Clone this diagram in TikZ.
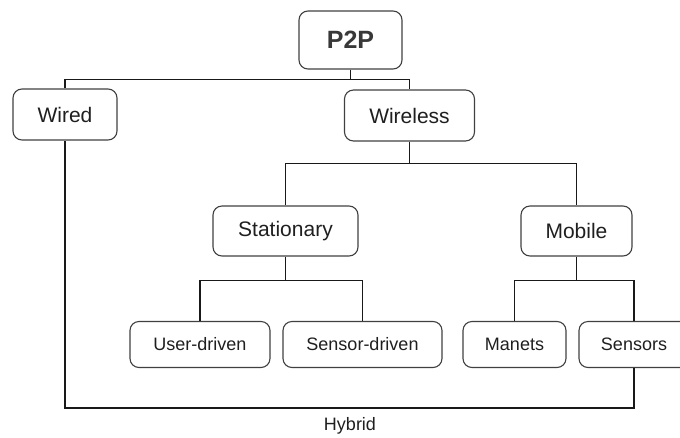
\documentclass[tikz,border=0pt]{standalone}
\usepackage{fontspec}
\setmainfont{Liberation Sans}
\begin{document}
\begin{tikzpicture}[x=1pt,y=-1pt,
  box/.style={draw=black!75, line width=1.1pt, rounded corners=9pt, text=black!88,
    font=\fontsize{21}{25}\selectfont, inner sep=0pt},
  link/.style={draw=black!90, line width=1.25pt},
  lbl/.style={text=black!88, font=\fontsize{18}{22}\selectfont, inner sep=0pt}]
\clip (0,0) rectangle (680,437);
\node[box, minimum width=103pt, minimum height=58pt, text=black!78,
  font=\fontsize{25}{30}\selectfont\bfseries] (p2p) at (350.5,40) {P2P};
\node[box, minimum width=104pt, minimum height=51pt] (wired) at (65,114.5) {Wired};
\node[box, minimum width=130pt, minimum height=51pt] (wireless) at (409.5,115.5) {Wireless};
\node[box, minimum width=145pt, minimum height=50pt] (stationary) at (285.5,231) {Stationary};
\node[box, minimum width=111pt, minimum height=50pt] (mobile) at (576.5,231) {Mobile};
\node[box, minimum width=140pt, minimum height=46pt, font=\fontsize{18}{22}\selectfont] (user) at (200,344.5) {User-driven};
\node[box, minimum width=159pt, minimum height=46pt, font=\fontsize{18}{22}\selectfont] (sensdrv) at (362.5,344.5) {Sensor-driven};
\node[box, minimum width=103pt, minimum height=46pt, font=\fontsize{18}{22}\selectfont] (manets) at (514.5,344.5) {Manets};
\node[box, minimum width=110pt, minimum height=46pt, font=\fontsize{18}{22}\selectfont] (sensors) at (634,344.5) {Sensors};
\node[lbl] (hybrid) at (350,426) {Hybrid};

\draw[link] (p2p.south) -- ++(0,10) coordinate (j1);
\draw[link] (wired.north) |- (j1) -| (wireless.north);
\draw[link] (wireless.south) -- ++(0,22) coordinate (j2);
\draw[link] (stationary.north) |- (j2) -| (mobile.north);
\draw[link] (stationary.south) -- ++(0,24) coordinate (j3);
\draw[link] (user.north) |- (j3) -| (sensdrv.north);
\draw[link] (mobile.south) -- ++(0,24) coordinate (j4);
\draw[link] (manets.north) |- (j4) -| (sensors.north);
\draw[link] (sensors.south) -- ++(0,40) -| (wired.south);
\end{tikzpicture}
\end{document}
